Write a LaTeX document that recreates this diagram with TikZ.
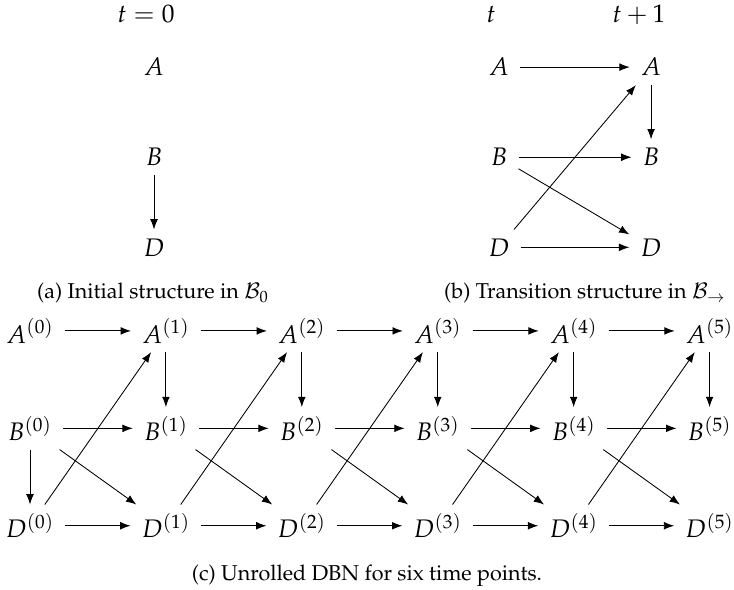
\documentclass[tikz,border=0pt]{standalone}
\usepackage[T1]{fontenc}
\usepackage{mathpazo}
\usetikzlibrary{positioning,arrows.meta}

\begin{document}
\begin{tikzpicture}[
  x=0.465pt,y=-0.465pt,
  on grid,
  node distance=45.3pt and 63.2pt,
  every node/.style={font=\fontsize{11.8}{14}\selectfont},
  var/.style={inner xsep=5pt,inner ysep=4pt},
  lbl/.style={anchor=base},
  subcap/.style={anchor=base,font=\normalsize},
  arr/.style={-{Latex[length=4.8pt,width=3.6pt]}}
]
\useasboundingbox (0,0) rectangle (734,590);
% (a) initial structure
\node[lbl] (t0) at (146,23) {$t=0$};
\node[var,anchor=base] (ia) at (154,76) {$A$};
\node[var,below=41.9pt of ia] (ib) {$B$};
\node[var,below=41.9pt of ib] (id) {$D$};
\draw[arr] (ib) -- (id);
\node[subcap] (capa) at (153,299) {(a) Initial structure in $\mathcal{B}_0$};
% (b) transition structure
\node[lbl] (tt) at (491,23) {$t$};
\node[lbl] (tt1) at (639,23) {$t+1$};
\node[var,anchor=base] (ta) at (499,76) {$A$};
\node[var,below=41.9pt of ta] (tb) {$B$};
\node[var,below=41.9pt of tb] (td) {$D$};
\node[var,right=70.7pt of ta] (ta1) {$A$};
\node[var,right=70.7pt of tb] (tb1) {$B$};
\node[var,right=70.7pt of td] (td1) {$D$};
\draw[arr] (ta) -- (ta1);
\draw[arr] (tb) -- (tb1);
\draw[arr] (td) -- (td1);
\draw[arr] (ta1) -- (tb1);
\draw[arr] (td) -- (ta1);
\draw[arr] (tb) -- (td1);
\node[subcap] (capb) at (585,299) {(b) Transition structure in $\mathcal{B}_{\rightarrow}$};
% (c) unrolled network
\node[var,anchor=base] (a0) at (30,343) {$A^{(0)}$};
\node[var,right=of a0] (a1) {$A^{(1)}$};
\node[var,right=of a1] (a2) {$A^{(2)}$};
\node[var,right=of a2] (a3) {$A^{(3)}$};
\node[var,right=of a3] (a4) {$A^{(4)}$};
\node[var,right=of a4] (a5) {$A^{(5)}$};
\node[var,below=of a0] (b0) {$B^{(0)}$};
\node[var,below=of a1] (b1) {$B^{(1)}$};
\node[var,below=of a2] (b2) {$B^{(2)}$};
\node[var,below=of a3] (b3) {$B^{(3)}$};
\node[var,below=of a4] (b4) {$B^{(4)}$};
\node[var,below=of a5] (b5) {$B^{(5)}$};
\node[var,below=of b0] (d0) {$D^{(0)}$};
\node[var,below=of b1] (d1) {$D^{(1)}$};
\node[var,below=of b2] (d2) {$D^{(2)}$};
\node[var,below=of b3] (d3) {$D^{(3)}$};
\node[var,below=of b4] (d4) {$D^{(4)}$};
\node[var,below=of b5] (d5) {$D^{(5)}$};
\draw[arr] (a0) -- (a1);
\draw[arr] (a1) -- (a2);
\draw[arr] (a2) -- (a3);
\draw[arr] (a3) -- (a4);
\draw[arr] (a4) -- (a5);
\draw[arr] (b0) -- (b1);
\draw[arr] (b1) -- (b2);
\draw[arr] (b2) -- (b3);
\draw[arr] (b3) -- (b4);
\draw[arr] (b4) -- (b5);
\draw[arr] (d0) -- (d1);
\draw[arr] (d1) -- (d2);
\draw[arr] (d2) -- (d3);
\draw[arr] (d3) -- (d4);
\draw[arr] (d4) -- (d5);
\draw[arr] (b0) -- (d0);
\draw[arr] (a1) -- (b1);
\draw[arr] (a2) -- (b2);
\draw[arr] (a3) -- (b3);
\draw[arr] (a4) -- (b4);
\draw[arr] (a5) -- (b5);
\draw[arr] (d0) -- (a1);
\draw[arr] (d1) -- (a2);
\draw[arr] (d2) -- (a3);
\draw[arr] (d3) -- (a4);
\draw[arr] (d4) -- (a5);
\draw[arr] (b0) -- (d1);
\draw[arr] (b1) -- (d2);
\draw[arr] (b2) -- (d3);
\draw[arr] (b3) -- (d4);
\draw[arr] (b4) -- (d5);
\node[subcap] (capc) at (367,580) {(c) Unrolled DBN for six time points.};
\end{tikzpicture}
\end{document}
